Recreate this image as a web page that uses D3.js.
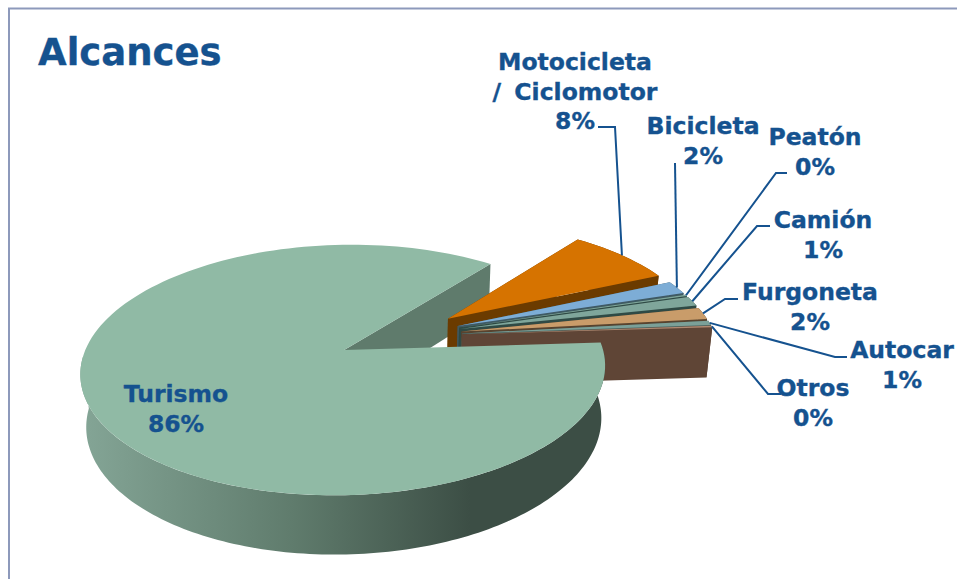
<!DOCTYPE html>
<html><head><meta charset="utf-8">
<script src="https://cdn.jsdelivr.net/npm/d3@7"></script>
<style>html,body{margin:0;padding:0;background:#fff}svg{display:block}text{font-family:"DejaVu Sans",sans-serif;font-weight:700;fill:#15528F;stroke:#15528F;stroke-width:.35px;word-spacing:5px}</style>
</head><body><svg id="c" width="957" height="579"></svg>
<script>
// Data
const categories = ["Turismo","Motocicleta / Ciclomotor","Bicicleta","Peatón","Camión","Furgoneta","Autocar","Otros"];
const shares = [86.4,7.9,1.8,0.2,1.3,1.6,0.6,0.2];
const shownPercent = ["86%","8%","2%","0%","1%","2%","1%","0%"];
const topColors = ["#90BAA5","#D67300","#7DADD6","#7FA69B","#7FA69B","#C99C6A","#7BA098","#B08A72"];
const wallColors = ["#3C4E45","#6B3B00","#3F5A64","#2F4A45","#2F4A45","#57432F","#4A5F5A","#5F4536"];

// Layout
const deg=Math.PI/180;
const svg=d3.select("#c");
const k=0.157,explode=0.245;
const upper={cx:400.2,cy:336.2,sx:254.2,sy:117.7};
const lower={cx:400.2,cy:387,sx:249.5,sy:124};
const project=(p,u,v)=>{const w=1+k*v;return [p.cx+p.sx*u/w,p.cy-p.sy*v/w];};
const line=d3.line();

// pie: angle measured clockwise from north; first slice starts just north of east
const pie=d3.pie().sort(null).value(d=>d).startAngle(86.5*deg).endAngle((86.5+360)*deg);
const arcs=pie(shares).map((a,i)=>{
  const mid=(a.startAngle+a.endAngle)/2;
  return {...a,i,mid,ou:explode*Math.sin(mid),ov:explode*Math.cos(mid)};
});
const rim=(a,t,p)=>{const ang=a.startAngle+(a.endAngle-a.startAngle)*t;
  return project(p,a.ou+Math.sin(ang),a.ov+Math.cos(ang));};
const apex=(a,p)=>project(p,a.ou,a.ov);
const rimPts=(a,p,tMax=1)=>{
  const n=Math.max(6,Math.ceil((a.endAngle-a.startAngle)/deg/2));
  return d3.range(0,n+1).map(j=>rim(a,tMax*j/n,p));
};

// Gradient for the main wall
const defs=svg.append("defs");
const g=defs.append("linearGradient").attr("id","wall").attr("gradientUnits","userSpaceOnUse")
 .attr("x1",82).attr("x2",470).attr("y1",0).attr("y2",0);
g.append("stop").attr("offset",0).attr("stop-color","#84A596");
g.append("stop").attr("offset",0.55).attr("stop-color","#5F7B6C");
g.append("stop").attr("offset",1).attr("stop-color","#3C4E45");

const chart=svg.append("g");
function drawSlice(a){
  const ws=wallColors[a.i];
  const T=rimPts(a,upper),B=rimPts(a,lower);
  chart.append("path").attr("d",line(T.concat(B.reverse()))+"Z").attr("fill",ws);
  const q=[apex(a,upper),rim(a,1,upper),rim(a,1,lower),apex(a,lower)];
  chart.append("path").attr("d",line(q)+"Z").attr("fill",ws);
  const q2=[apex(a,upper),rim(a,0,upper),rim(a,0,lower),apex(a,lower)];
  chart.append("path").attr("d",line(q2)+"Z").attr("fill",ws);
  chart.append("path").attr("d",line([apex(a,upper)].concat(rimPts(a,upper)))+"Z").attr("fill",topColors[a.i]);
}
// Back to front: main slice's cut face, the small slices, then the main slice
const main=arcs[0];
chart.append("path").attr("d",line([apex(main,upper),rim(main,1,upper),rim(main,1,lower),apex(main,lower)])+"Z").attr("fill","#5F7B6C");
arcs.slice(1).forEach(drawSlice);
{
  // Only the front half of the main wall can be seen
  const T=rimPts(main,upper,0.58),B=rimPts(main,lower,0.58);
  chart.append("path").attr("d",line(T.concat(B.reverse()))+"Z").attr("fill","url(#wall)");
  chart.append("path").attr("d",line([apex(main,upper)].concat(rimPts(main,upper)))+"Z").attr("fill",topColors[0]);
}

// Frame
svg.append("path").attr("d","M9,579V8.5H957").attr("fill","none").attr("stroke","#8D99BB").attr("stroke-width",2);

// Title
svg.append("text").attr("x",38).attr("y",65).attr("font-size",37).text("Alcances");

// Leader bends and label anchors, by category index
const labelLayout=[
 {x:176,y:402,lines:["Turismo"]},
 {x:575,y:70,lines:["Motocicleta","/ Ciclomotor"],bend:[[615,127],[598,127]]},
 {x:703,y:134,lines:["Bicicleta"],bend:[[675,163]]},
 {x:815,y:145,lines:["Peatón"],bend:[[776,173],[787,173]]},
 {x:823,y:228,lines:["Camión"],bend:[[757,226],[770,226]]},
 {x:810,y:300,lines:["Furgoneta"],bend:[[725,299],[738,299]]},
 {x:902,y:358,lines:["Autocar"],bend:[[835,357],[847,357]]},
 {x:813,y:396,lines:["Otros"],bend:[[768,394],[781,394]]}
];
arcs.forEach((a,i)=>{
  const L=labelLayout[i];
  if(L.bend){
    const s=rim(a,0.5,upper);
    svg.append("path").attr("d",line([s].concat(L.bend))).attr("fill","none").attr("stroke","#15528F").attr("stroke-width",2);
  }
  const t=svg.append("text").attr("text-anchor","middle").attr("font-size",23.5);
  L.lines.concat([shownPercent[i]]).forEach((s,j)=>t.append("tspan").attr("x",L.x).attr("y",L.y+j*29.5).text(s));
});
</script></body></html>
